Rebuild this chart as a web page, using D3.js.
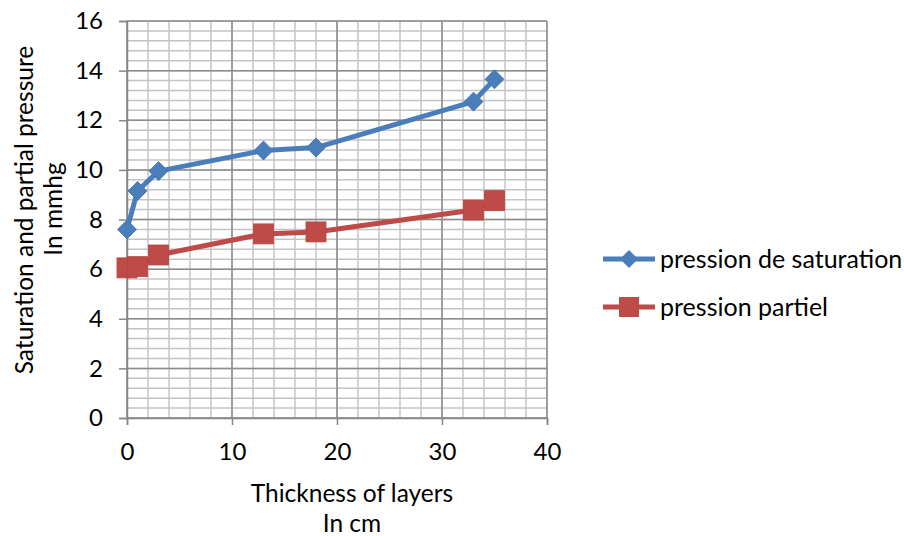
<!DOCTYPE html>
<html><head><meta charset="utf-8">
<script src="https://cdn.jsdelivr.net/npm/d3@7"></script>
<style>body{margin:0;background:#fff}svg{display:block}text{font-family:Lato,"Open Sans",sans-serif;fill:#000}</style>
</head><body><svg id="c" width="904" height="536"></svg>
<script>
const xVals = [0, 1, 3, 13, 18, 33, 35];
const saturation = [7.6, 9.15, 9.95, 10.78, 10.9, 12.75, 13.65];
const partial = [6.05, 6.1, 6.57, 7.42, 7.5, 8.38, 8.76];
const seriesNames = ["pression de saturation", "pression partiel"];
const xTicks = [0, 10, 20, 30, 40];
const yTicks = [0, 2, 4, 6, 8, 10, 12, 14, 16];
const xTitle = ["Thickness of layers", "In cm"];
const yTitle = ["Saturation and partial pressure", "In mmhg"];

const svg = d3.select("#c");
const x = d3.scaleLinear().domain([0, 40]).range([127, 547]);
const y = d3.scaleLinear().domain([0, 16]).range([418, 21]);

const g = svg.append("g");
// minor grid
g.selectAll(".vm").data(d3.range(0, 40.01, 2)).join("line")
  .attr("x1", d => x(d)).attr("x2", d => x(d)).attr("y1", y(0)).attr("y2", y(16))
  .attr("stroke", "#c4c4c4").attr("stroke-width", 1.5);
g.selectAll(".hm").data(d3.range(0, 41).map(i => i * 0.4)).join("line")
  .attr("x1", x(0)).attr("x2", x(40)).attr("y1", d => y(d)).attr("y2", d => y(d))
  .attr("stroke", "#c4c4c4").attr("stroke-width", 1.5);
// major grid
g.selectAll(".vM").data(xTicks).join("line")
  .attr("x1", d => x(d)).attr("x2", d => x(d)).attr("y1", y(0)).attr("y2", y(16))
  .attr("stroke", "#8c8c8c").attr("stroke-width", 1.5);
g.selectAll(".hM").data(yTicks).join("line")
  .attr("x1", x(0)).attr("x2", x(40)).attr("y1", d => y(d)).attr("y2", d => y(d))
  .attr("stroke", "#8c8c8c").attr("stroke-width", 1.5);

// axes
const xa = svg.append("g").attr("transform", `translate(0,${y(0)})`)
  .call(d3.axisBottom(x).tickValues(xTicks).tickSize(7).tickPadding(18));
const ya = svg.append("g").attr("transform", `translate(${x(0)},0)`)
  .call(d3.axisLeft(y).tickValues(yTicks).tickSize(8).tickPadding(16));
[xa, ya].forEach(a => {
  a.select(".domain").attr("stroke", "#868686").attr("stroke-width", 1.5);
  a.selectAll(".tick line").attr("stroke", "#868686").attr("stroke-width", 1.5);
  a.selectAll(".tick text").attr("font-size", 24).attr("font-family", "Lato").attr("fill", "#000");
});

// titles
svg.append("text").attr("x", 352).attr("y", 502).attr("text-anchor", "middle").attr("font-size", 24.5).text(xTitle[0]);
svg.append("text").attr("x", 352).attr("y", 532).attr("text-anchor", "middle").attr("font-size", 24.5).text(xTitle[1]);
svg.append("text").attr("transform", "translate(33,210) rotate(-90)").attr("text-anchor", "middle").attr("font-size", 24.5).text(yTitle[0]);
svg.append("text").attr("transform", "translate(62,209) rotate(-90)").attr("text-anchor", "middle").attr("font-size", 24.5).text(yTitle[1]);

const colors = ["#4a7ebb", "#be4b48"];
const line = d3.line().x((d, i) => x(xVals[i])).y(d => y(d));
const diamond = s => `M0,${-s}L${s},0L0,${s}L${-s},0Z`;

svg.append("path").attr("d", line(saturation)).attr("fill", "none").attr("stroke", colors[0]).attr("stroke-width", 5).attr("stroke-linejoin", "round");
svg.append("path").attr("d", line(partial)).attr("fill", "none").attr("stroke", colors[1]).attr("stroke-width", 5).attr("stroke-linejoin", "round");

svg.selectAll(".dm").data(saturation).join("path")
  .attr("transform", (d, i) => `translate(${x(xVals[i])},${y(d)})`)
  .attr("d", diamond(9.5)).attr("fill", colors[0]).attr("stroke", "#3f72ae").attr("stroke-width", 0.8);
svg.selectAll(".sq").data(partial).join("rect")
  .attr("x", (d, i) => x(xVals[i]) - 10).attr("y", d => y(d) - 10)
  .attr("width", 20).attr("height", 20).attr("fill", colors[1]).attr("stroke", "#b84542").attr("stroke-width", 0.8);

// legend
const lg = [259, 307];
seriesNames.forEach((n, i) => {
  svg.append("line").attr("x1", 603).attr("x2", 655).attr("y1", lg[i]).attr("y2", lg[i]).attr("stroke", colors[i]).attr("stroke-width", 5);
  if (i === 0) svg.append("path").attr("transform", `translate(629,${lg[i]})`).attr("d", diamond(9)).attr("fill", colors[0]);
  else svg.append("rect").attr("x", 619).attr("y", lg[i] - 10).attr("width", 20).attr("height", 20).attr("fill", colors[1]);
  svg.append("text").attr("x", 660).attr("y", lg[i] + 9).attr("font-size", 25).text(n);
});
</script></body></html>
